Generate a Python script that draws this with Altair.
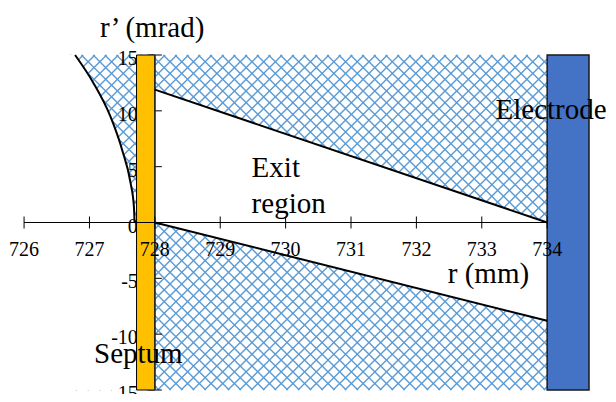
import altair as alt
import pandas as pd
import numpy as np

# ---------------- data ----------------
x_ticks = [726, 727, 728, 729, 730, 731, 732, 733, 734]
y_ticks = [15, 10, 5, 0, -5, -10, -15]

# acceptance boundary curve (left, above r'=0)
curve_x = [726.78, 727.06, 727.32, 727.50, 727.63, 727.68, 727.69]
curve_y = [15.0, 12.5, 9.5, 6.5, 3.5, 1.4, 0.0]

# exit region boundaries
upper_x = [728.0, 734.0]
upper_y = [11.9, 0.0]
lower_x = [728.0, 734.0]
lower_y = [0.0, -8.8]

septum_r = [727.72, 728.0]
electrode_r = [734.0, 734.64]
rp_range = [-15.0, 15.0]

label_text = ["r\u2019 (mrad)", "Exit", "region", "r (mm)", "Septum", "Electrode"]
label_x = [727.16, 729.48, 729.48, 732.48, 727.07, 733.21]
label_y = [16.6, 4.07, 0.82, -5.42, -12.54, 9.3]

# ---------------- layout ----------------
W, H = 595, 335
PAD = {"left": 3, "top": 47, "right": 2, "bottom": 4}
XD = [725.8, 734.9]
YD = [-15.0, 15.0]
FONT = "Liberation Serif"

X = alt.Scale(domain=XD, nice=False, zero=False)
Y = alt.Scale(domain=YD, nice=False, zero=False)


def xe(f):
    return alt.X(f, type="quantitative", scale=X, axis=None)


def ye(f):
    return alt.Y(f, type="quantitative", scale=Y, axis=None)


# ---------------- cross-hatch pattern (45 deg in screen space) ----------------
kx = W / (XD[1] - XD[0])
ky = H / (YD[1] - YD[0])
s = kx / ky                        # data slope of a 45 deg screen line
P_PX = 11.7                        # pattern period in pixels
PHASE_A, PHASE_B = 9.3, 3.2        # pattern phase (pixels) of the two line families
xa, xb = curve_x[0] - 0.1, electrode_r[0]
span = (rp_range[1] - rp_range[0]) / s
rows = []
for k in range(-70, 90):
    for fam, ph in (("A", PHASE_A), ("B", PHASE_B)):
        c = XD[0] + (ph + k * P_PX - PAD["left"]) / kx
        lo, hi = max(c, xa), min(c + span, xb)
        if lo >= hi:
            continue
        if fam == "A":
            rows.append({"x": lo, "y": rp_range[0] + s * (lo - c),
                         "x2": hi, "y2": rp_range[0] + s * (hi - c)})
        else:
            rows.append({"x": lo, "y": rp_range[1] - s * (lo - c),
                         "x2": hi, "y2": rp_range[1] - s * (hi - c)})
hatch_df = pd.DataFrame(rows)

hatch = alt.Chart(hatch_df).mark_rule(color="#5b9bd5", strokeWidth=1.4).encode(
    x=xe("x"), y=ye("y"), x2="x2:Q", y2="y2:Q")

curve_df = pd.DataFrame({"x": curve_x, "y": curve_y})
cover_left = alt.Chart(curve_df).mark_area(orient="horizontal", color="white", opacity=1).encode(
    y=ye("y"), x=xe("x"), x2=alt.value(0))

cover_low = alt.Chart(pd.DataFrame({"x": [septum_r[0]], "y": [rp_range[0]], "y2": [0.0]})).mark_rect(
    color="white", opacity=1).encode(x=xe("x"), x2=alt.value(0), y=ye("y"), y2="y2:Q")

exit_df = pd.DataFrame({"x": upper_x, "top": upper_y, "bot": lower_y})
cover_exit = alt.Chart(exit_df).mark_area(color="white", opacity=1).encode(
    x=xe("x"), y=ye("top"), y2="bot:Q")

# y axis ticks and labels (below septum)
yt_df = pd.DataFrame({"v": y_ticks, "x": [septum_r[1]] * len(y_ticks),
                      "lab": [str(v) for v in y_ticks]})
y_tick_marks = alt.Chart(yt_df).mark_point(shape="M-1,0L1,0", size=196, filled=False,
                                           stroke="black", strokeWidth=1, opacity=1).encode(
    x=xe("x"), y=ye("v"))
y_labels = alt.Chart(yt_df).mark_text(font=FONT, fontSize=20, align="right", baseline="alphabetic",
                                      dx=-17, dy=10, color="black").encode(
    x=xe("x"), y=ye("v"), text="lab:N")

rect_df = pd.DataFrame({"name": ["Septum", "Electrode"],
                        "x0": [septum_r[0], electrode_r[0]], "x1": [septum_r[1], electrode_r[1]],
                        "y0": [rp_range[0]] * 2, "y1": [rp_range[1]] * 2})
septum = alt.Chart(rect_df.iloc[[0]]).mark_rect(fill="#FFC000", stroke="black", strokeWidth=1).encode(
    x=xe("x0"), x2="x1:Q", y=ye("y0"), y2="y1:Q")
electrode = alt.Chart(rect_df.iloc[[1]]).mark_rect(fill="#4472C4", stroke="#1a1a1a", strokeWidth=1.5).encode(
    x=xe("x0"), x2="x1:Q", y=ye("y0"), y2="y1:Q")

yaxis_line = alt.Chart(pd.DataFrame({"x": [septum_r[1]], "y": [rp_range[0]], "y2": [rp_range[1]]})).mark_rule(
    color="#2a2a1a", strokeWidth=1.6).encode(x=xe("x"), y=ye("y"), y2="y2:Q")

xaxis_line = alt.Chart(pd.DataFrame({"x": [x_ticks[0]], "x2": [x_ticks[-1]], "y": [0.0]})).mark_rule(
    color="black", strokeWidth=1.2).encode(x=xe("x"), x2="x2:Q", y=ye("y"))

xt_df = pd.DataFrame({"v": x_ticks, "y": [0.0] * len(x_ticks), "lab": [str(v) for v in x_ticks]})
x_tick_marks = alt.Chart(xt_df).mark_point(shape="M0,-1L0,1", size=144, filled=False,
                                           stroke="black", strokeWidth=1, opacity=1).encode(
    x=xe("v"), y=ye("y"))
x_labels = alt.Chart(xt_df).mark_text(font=FONT, fontSize=20, align="center", baseline="alphabetic",
                                      dy=33, color="black").encode(
    x=xe("v"), y=ye("y"), text="lab:N")

curve_line = alt.Chart(curve_df).mark_line(color="black", strokeWidth=2, interpolate="monotone").encode(
    x=xe("x"), y=ye("y"))

seg_df = pd.DataFrame({"x": upper_x + lower_x, "y": upper_y + lower_y,
                       "g": ["upper"] * 2 + ["lower"] * 2})
seg_lines = alt.Chart(seg_df).mark_line(color="black", strokeWidth=2).encode(
    x=xe("x"), y=ye("y"), detail="g:N")

lab_df = pd.DataFrame({"t": label_text, "x": label_x, "y": label_y})
labels = alt.Chart(lab_df).mark_text(font=FONT, fontSize=29, align="left", baseline="alphabetic",
                                     color="black").encode(
    x=xe("x"), y=ye("y"), text="t:N")

chart = alt.layer(
    hatch, cover_left, cover_low, cover_exit,
    y_tick_marks, y_labels,
    septum, electrode, yaxis_line,
    xaxis_line, x_tick_marks, seg_lines, curve_line,
    x_labels, labels,
).properties(
    width=W, height=H,
    autosize=alt.AutoSizeParams(type="none"),
    padding=PAD,
    background="white",
).configure_view(stroke=None)

chart.save("out.html", embed_options={"renderer": "svg", "actions": False})
